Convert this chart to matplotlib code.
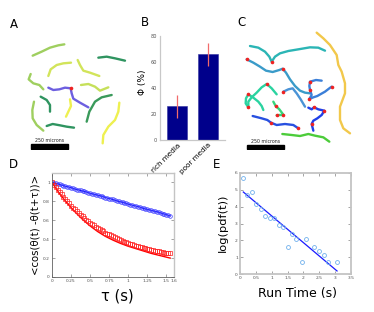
import matplotlib
matplotlib.use('Agg')
import matplotlib.pyplot as plt
from matplotlib.patches import Rectangle

W, H = 374, 312
fig = plt.figure(figsize=(W / 100, H / 100), dpi=100)


def px_axes(l, t, r, b):
    return fig.add_axes([l / W, 1 - b / H, (r - l) / W, (b - t) / H])


def ftext(x, y, s, **kw):
    fig.text(x / W, 1 - y / H, s, **kw)


# ---------------- data ----------------
# Panel A trajectories (image units)
trajA = [
    ("#9fcf5f", [(98, 167), (125, 155), (150, 143), (175, 136), (193, 133)]),
    ("#d2e45a", [(145, 228), (152, 208), (170, 195), (190, 190), (213, 188)]),
    ("#d2e45a", [(233, 180), (240, 195), (250, 212), (270, 218), (298, 228)]),
    ("#2f9460", [(295, 173), (320, 170), (345, 175), (375, 182)]),
    ("#9fcf5f", [(92, 222), (86, 238), (100, 250), (118, 255), (130, 268)]),
    ("#6d5fe0", [(145, 263), (160, 270), (178, 268), (195, 263), (212, 265),
                 (215, 280), (220, 296), (240, 308), (265, 322)]),
    ("#c6e05a", [(243, 255), (265, 252), (285, 260), (300, 272), (325, 262)]),
    ("#2f9460", [(122, 290), (140, 300), (150, 315), (150, 335)]),
    ("#eef050", [(210, 298), (213, 318), (205, 335), (198, 350)]),
    ("#3a9a5b", [(260, 365), (268, 335), (285, 305), (305, 292), (335, 285)]),
    ("#9fcf5f", [(102, 305), (97, 330), (98, 355), (110, 375), (130, 392)]),
    ("#2f9460", [(140, 378), (158, 372), (180, 376), (200, 380), (222, 383)]),
    ("#eef050", [(358, 308), (355, 335), (345, 360), (325, 380), (310, 405), (308, 430)]),
]
dotsA = [(212, 265)]

# Panel B
conditions = ["rich media", "poor media"]
phi = [26, 66]
phi_err = [9, 9]

# Panel C trajectories (image units)
trajC = [
    ("#2bb5b5", [(60, 138), (85, 143), (105, 155), (118, 170), (125, 185), (135, 170),
                 (150, 160), (175, 153), (205, 148), (240, 142), (265, 143), (285, 152)]),
    ("#3a9bc9", [(50, 178), (70, 188), (90, 200), (108, 212), (128, 216), (148, 210),
                 (158, 206), (168, 218), (180, 238), (195, 258), (210, 272), (225, 278), (240, 280)]),
    ("#f2c84b", [(260, 98), (280, 115), (300, 135), (320, 165), (325, 195), (335, 215),
                 (345, 250), (345, 280), (330, 320), (330, 360), (340, 385), (360, 400)]),
    ("#2ad3a0", [(140, 283), (125, 265), (110, 252), (95, 262), (80, 278), (65, 292),
                 (55, 305), (55, 322)]),
    ("#2ad3a0", [(100, 330), (95, 318), (85, 305), (70, 293), (55, 283), (48, 295),
                 (47, 310), (55, 322)]),
    ("#37d67a", [(130, 305), (137, 318), (148, 328), (157, 340), (160, 345), (148, 345), (140, 346)]),
    ("#4a93d6", [(160, 275), (175, 268), (188, 265), (200, 280), (212, 298), (225, 320)]),
    ("#3b7fd8", [(275, 242), (258, 240), (240, 245), (238, 258), (240, 270), (245, 285),
                 (238, 297), (250, 292), (262, 288), (285, 275), (298, 265), (305, 260)]),
    ("#2040e8", [(235, 323), (245, 328), (252, 322), (265, 328), (283, 332), (275, 345),
                 (262, 355), (250, 362), (245, 372), (250, 392)]),
    ("#2850e0", [(68, 348), (95, 355), (112, 360), (123, 368), (140, 375), (165, 372),
                 (190, 375), (205, 385)]),
    ("#4ccc3a", [(157, 402), (185, 405), (210, 408), (235, 402), (255, 407), (280, 412), (298, 425)]),
]
dotsC = [(125, 185), (158, 206), (50, 178), (110, 252), (55, 283), (55, 322),
         (137, 318), (160, 345), (140, 346), (160, 275), (240, 245), (240, 270),
         (238, 297), (305, 260), (252, 322), (283, 332), (245, 372), (123, 368), (205, 385)]

# Panel D
tau = [0.000, 0.025, 0.050, 0.075, 0.100, 0.125, 0.150, 0.175, 0.200, 0.225,
       0.250, 0.275, 0.300, 0.325, 0.350, 0.375, 0.400, 0.425, 0.450, 0.475,
       0.500, 0.525, 0.550, 0.575, 0.600, 0.625, 0.650, 0.675, 0.700, 0.725,
       0.750, 0.775, 0.800, 0.825, 0.850, 0.875, 0.900, 0.925, 0.950, 0.975,
       1.000, 1.025, 1.050, 1.075, 1.100, 1.125, 1.150, 1.175, 1.200, 1.225,
       1.250, 1.275, 1.300, 1.325, 1.350, 1.375, 1.400, 1.425, 1.450, 1.475,
       1.500, 1.525, 1.550]
corr_poor = [1.000, 0.995, 0.990, 0.985, 0.980, 0.972, 0.965, 0.960, 0.955, 0.950,
             0.945, 0.938, 0.930, 0.925, 0.920, 0.915, 0.910, 0.905, 0.900, 0.892,
             0.885, 0.880, 0.875, 0.870, 0.865, 0.860, 0.855, 0.848, 0.840, 0.835,
             0.830, 0.825, 0.820, 0.812, 0.805, 0.800, 0.795, 0.790, 0.785, 0.778,
             0.770, 0.765, 0.760, 0.755, 0.750, 0.745, 0.740, 0.732, 0.725, 0.720,
             0.715, 0.710, 0.705, 0.700, 0.695, 0.690, 0.685, 0.678, 0.670, 0.665,
             0.660, 0.652, 0.645]
corr_rich = [1.000, 0.975, 0.950, 0.925, 0.900, 0.875, 0.850, 0.825, 0.800, 0.780,
             0.755, 0.735, 0.715, 0.695, 0.675, 0.657, 0.640, 0.622, 0.605, 0.590,
             0.575, 0.560, 0.545, 0.532, 0.520, 0.507, 0.495, 0.482, 0.470, 0.460,
             0.450, 0.440, 0.430, 0.420, 0.410, 0.400, 0.390, 0.382, 0.375, 0.367,
             0.360, 0.352, 0.345, 0.337, 0.330, 0.325, 0.320, 0.315, 0.310, 0.305,
             0.300, 0.295, 0.290, 0.285, 0.280, 0.275, 0.270, 0.265, 0.260, 0.257,
             0.255, 0.252, 0.250]
tau_fit = [0.0, 0.1, 0.2, 0.3, 0.4, 0.5, 0.6, 0.7, 0.8, 0.9, 1.0, 1.1, 1.2, 1.3, 1.4, 1.5, 1.55]
fit_rich = [1.0, 0.88, 0.78, 0.69, 0.61, 0.54, 0.48, 0.43, 0.39, 0.355, 0.325, 0.30,
            0.275, 0.25, 0.23, 0.21, 0.20]
d_xticks = [0, 0.25, 0.5, 0.75, 1, 1.25, 1.5, 1.6]
d_xticklabels = ["0", "0.25", "0.5", "0.75", "1", "1.25", "1.5", "1.6"]
d_yticks = [0, 0.2, 0.4, 0.6, 0.8, 1]
d_yticklabels = ["0", "0.2", "0.4", "0.6", "0.8", "1"]

# Panel E
run_t = [0.105, 0.23, 0.38, 0.50, 0.65, 0.80, 0.94, 1.07, 1.22, 1.36, 1.50, 1.64,
         1.77, 1.94, 2.07, 2.34, 2.49, 2.64, 2.76, 3.06]
log_pdf = [5.70, 4.70, 4.87, 4.16, 3.87, 3.47, 3.30, 3.30, 2.94, 2.77, 1.61, 2.40,
           2.08, 0.69, 2.08, 1.61, 1.39, 1.10, 0.69, 0.69]
fit_t = [0.105, 3.06]
fit_log = [4.87, 0.18]
e_xticks = [0, 0.5, 1, 1.5, 2, 2.5, 3, 3.5]
e_xticklabels = ["0", "0.5", "1", "1.5", "2", "2.5", "3", "3.5"]
e_yticks = [0, 1, 2, 3, 4, 5, 6]

FRAME = "#c4c4c4"
TICKC = "#505050"


def style_frame(ax):
    for s in ax.spines.values():
        s.set_color(FRAME)
        s.set_linewidth(1.0)
    ax.tick_params(direction="in", length=2, width=0.5, color="#808080",
                   labelsize=3.2, labelcolor=TICKC, pad=1.5, top=True, right=True)


def draw_traj(ax, trajs, dots):
    for col, pts in trajs:
        xs = [p[0] for p in pts]
        ys = [p[1] for p in pts]
        ax.plot(xs, ys, color=col, lw=1.7, solid_capstyle="round", solid_joinstyle="round")
    ax.plot([d[0] for d in dots], [d[1] for d in dots], "o", color="#ee2222",
            ms=2.6, mew=0, zorder=5)


# ---------------- Panel A ----------------
axA = px_axes(0, 0, 130, 150)
axA.set_xlim(0, 390)
axA.set_ylim(450, 0)
axA.axis("off")
draw_traj(axA, trajA, dotsA)
axA.add_patch(Rectangle((93, 432), 111, 16, color="black"))
axA.text(150, 420, "250 microns", fontsize=3.4, ha="center", va="center", color="#202020")

# ---------------- Panel C ----------------
axC = px_axes(230, 0, 374, 150)
axC.set_xlim(0, 432)
axC.set_ylim(450, 0)
axC.axis("off")
draw_traj(axC, trajC, dotsC)
axC.add_patch(Rectangle((52, 435), 110, 13, color="black"))
axC.text(106, 423, "250 microns", fontsize=3.4, ha="center", va="center", color="#202020")

# ---------------- Panel B ----------------
axB = px_axes(160, 36, 225, 140)
xpos = [1, 2]
axB.bar(xpos, phi, width=0.63, color="#00008b", edgecolor="#3030a0", lw=0.4)
axB.errorbar(xpos, phi, yerr=phi_err, fmt="none", ecolor="#f26b6b", elinewidth=0.9, capsize=0)
axB.set_xlim(0.45, 2.55)
axB.set_ylim(0, 80)
axB.set_yticks([0, 20, 40, 60, 80])
axB.set_xticks(xpos)
axB.set_xticklabels(conditions, rotation=45, ha="right", rotation_mode="anchor", fontsize=5.2)
for s in ["top", "right"]:
    axB.spines[s].set_visible(False)
for s in ["left", "bottom"]:
    axB.spines[s].set_color("#c8c8c8")
    axB.spines[s].set_linewidth(0.9)
axB.tick_params(axis="y", direction="out", length=0, labelsize=3.6, labelcolor=TICKC, pad=2)
axB.tick_params(axis="x", length=0, pad=1.5)
ftext(142, 82, "Φ (%)", fontsize=6.5, rotation=90, ha="center", va="center")

# ---------------- Panel D ----------------
axD = px_axes(52, 173, 174, 277)
axD.plot(tau, corr_poor, color="#0000ff", lw=0.8)
axD.plot(tau, corr_poor, "o", mfc="none", mec="#3a3aff", ms=2.6, mew=0.5)
axD.plot(tau_fit, fit_rich, color="#ff0000", lw=1.0)
axD.plot(tau, corr_rich, "s", mfc="none", mec="#ff2020", ms=2.7, mew=0.5)
axD.set_xlim(0, 1.6)
axD.set_ylim(0, 1.1)
axD.set_xticks(d_xticks)
axD.set_xticklabels(d_xticklabels)
axD.set_yticks(d_yticks)
axD.set_yticklabels(d_yticklabels)
style_frame(axD)
axD.spines["left"].set_color("#606060")
axD.spines["bottom"].set_color("#606060")
axD.spines["left"].set_linewidth(0.6)
axD.spines["bottom"].set_linewidth(0.6)
ftext(36, 225, "<cos(θ(t) -θ(t+τ))>", fontsize=7.3, rotation=90, ha="center", va="center")
ftext(117, 296, "τ (s)", fontsize=10.5, ha="center", va="center")

# ---------------- Panel E ----------------
axE = px_axes(240, 173, 351, 274)
axE.plot(fit_t, fit_log, color="#1a1aff", lw=0.9)
axE.plot(run_t, log_pdf, "o", mfc="none", mec="#6fb0ec", ms=2.8, mew=0.6)
axE.set_xlim(0, 3.5)
axE.set_ylim(0, 6)
axE.set_xticks(e_xticks)
axE.set_xticklabels(e_xticklabels)
axE.set_yticks(e_yticks)
style_frame(axE)
for s in axE.spines.values():
    s.set_linewidth(1.3)
ftext(223, 223, "log(pdf(t))", fontsize=8.2, rotation=90, ha="center", va="center")
ftext(298, 293, "Run Time (s)", fontsize=9, ha="center", va="center")

# ---------------- panel letters ----------------
for lab, x, y in [("A", 14, 24), ("B", 145, 23), ("C", 242, 23), ("D", 13, 165), ("E", 217, 164)]:
    ftext(x, y, lab, fontsize=8.5, ha="center", va="center")

fig.savefig("out.png", dpi=100)
